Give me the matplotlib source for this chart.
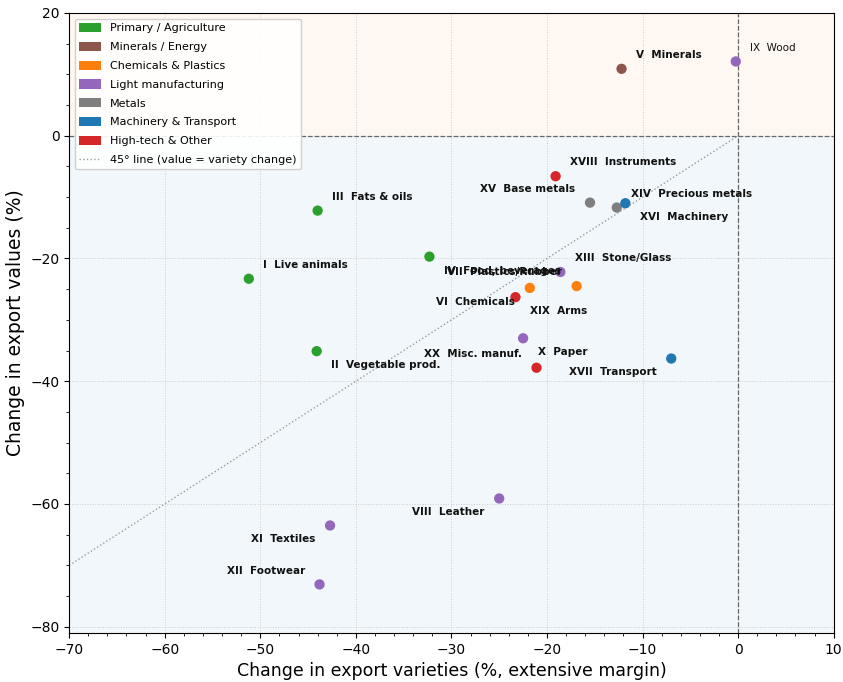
import matplotlib
matplotlib.use("Agg")
import matplotlib.pyplot as plt
from matplotlib.patches import Patch
from matplotlib.lines import Line2D
from matplotlib.ticker import MultipleLocator

# HS sections: change in export varieties (x) vs change in export values (y)
sections = ["I", "II", "III", "IV", "V", "VI", "VII", "VIII", "IX", "X",
            "XI", "XII", "XIII", "XIV", "XV", "XVI", "XVII", "XVIII", "XIX", "XX"]
names = ["Live animals", "Vegetable prod.", "Fats & oils", "Food, beverages",
         "Minerals", "Chemicals", "Plastics/Rubber", "Leather", "Wood", "Paper",
         "Textiles", "Footwear", "Stone/Glass", "Precious metals", "Base metals",
         "Machinery", "Transport", "Instruments", "Arms", "Misc. manuf."]
variety_change = [-51.2, -44.1, -44.0, -32.3, -12.2, -21.8, -16.9, -25.0, -0.25, -22.5,
                  -42.7, -43.8, -18.6, -12.7, -15.5, -11.8, -7.0, -19.1, -23.3, -21.1]
value_change = [-23.3, -35.1, -12.2, -19.7, 10.9, -24.8, -24.5, -59.1, 12.1, -33.0,
                -63.5, -73.1, -22.2, -11.7, -10.9, -11.0, -36.3, -6.6, -26.3, -37.8]
groups = ["Primary / Agriculture", "Primary / Agriculture", "Primary / Agriculture",
          "Primary / Agriculture", "Minerals / Energy", "Chemicals & Plastics",
          "Chemicals & Plastics", "Light manufacturing", "Light manufacturing",
          "Light manufacturing", "Light manufacturing", "Light manufacturing",
          "Light manufacturing", "Metals", "Metals", "Machinery & Transport",
          "Machinery & Transport", "High-tech & Other", "High-tech & Other",
          "High-tech & Other"]
# label placement direction (dx, dy) relative to each point
label_dir = [(1, 1), (1, -1), (1, 1), (1, -1), (1, 1), (-1, -1), (-1, 1), (-1, -1),
             (1, 1), (1, -1), (-1, -1), (-1, 1), (1, 1), (1, 1), (-1, 1), (1, -1),
             (-1, -1), (1, 1), (1, -1), (-1, 1)]

group_order = ["Primary / Agriculture", "Minerals / Energy", "Chemicals & Plastics",
               "Light manufacturing", "Metals", "Machinery & Transport", "High-tech & Other"]
group_colors = ["#2ca02c", "#8c564b", "#ff7f0e", "#9467bd", "#7f7f7f", "#1f77b4", "#d62728"]
color_of = dict(zip(group_order, group_colors))

fig, ax = plt.subplots(figsize=(8.43, 6.82), dpi=100)
fig.subplots_adjust(left=0.082, right=0.989, top=0.981, bottom=0.072)

xmin, xmax, ymin, ymax = -70, 10, -81, 20
ax.set_xlim(xmin, xmax)
ax.set_ylim(ymin, ymax)

# shaded regions: growth vs decline in export value
ax.axhspan(0, ymax, color="#ff7f0e", alpha=0.05, lw=0, zorder=0)
ax.axhspan(ymin, 0, color="#1f77b4", alpha=0.06, lw=0, zorder=0)
ax.axhline(0, color="#666666", ls="--", lw=0.9, zorder=1)
ax.axvline(0, color="#666666", ls="--", lw=0.9, zorder=1)
ax.plot([xmin, 0], [xmin, 0], ls=":", color="#999999", lw=1.0, zorder=1)

ax.grid(True, which="major", ls=":", color="#cccccc", lw=0.7)
ax.set_axisbelow(True)

for i in range(len(sections)):
    ax.scatter(variety_change[i], value_change[i], s=55, color=color_of[groups[i]],
               edgecolors="none", zorder=3)
    dx, dy = label_dir[i]
    bold = sections[i] != "IX"
    ax.annotate(f"{sections[i]}  {names[i]}", (variety_change[i], value_change[i]),
                xytext=(10.5 * dx, 10 * dy), textcoords="offset points",
                ha="left" if dx > 0 else "right", va="center",
                fontsize=7.5, fontweight="bold" if bold else "normal",
                color="#111111", zorder=4)

ax.xaxis.set_major_locator(MultipleLocator(10))
ax.xaxis.set_minor_locator(MultipleLocator(2))
ax.yaxis.set_major_locator(MultipleLocator(20))
ax.yaxis.set_minor_locator(MultipleLocator(5))
ax.tick_params(labelsize=10)

ax.set_xlabel("Change in export varieties (%, extensive margin)", fontsize=12.5)
ax.set_ylabel("Change in export values (%)", fontsize=13.5)

handles = [Patch(facecolor=c, label=g) for g, c in zip(group_order, group_colors)]
handles.append(Line2D([0], [0], ls=":", color="#999999", lw=1.0,
                      label="45° line (value = variety change)"))
ax.legend(handles=handles, loc="upper left", fontsize=8, framealpha=0.9,
          handlelength=2.0, handleheight=0.9, labelspacing=0.75)

fig.savefig("out.png", dpi=100)
